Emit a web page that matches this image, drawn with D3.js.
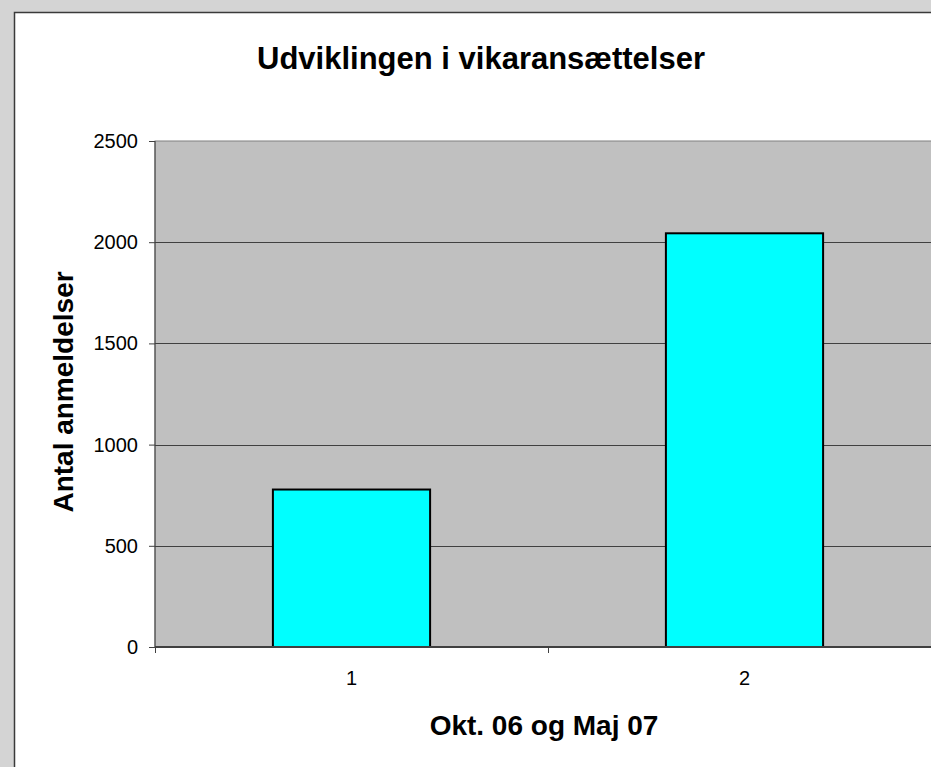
<!DOCTYPE html>
<html>
<head>
<meta charset="utf-8">
<script src="https://cdn.jsdelivr.net/npm/d3@7"></script>
<style>
  body { margin: 0; background: #d4d4d4; overflow: hidden; }
  svg { display: block; font-family: "Liberation Sans", Arial, sans-serif; }
</style>
</head>
<body>
<svg width="931" height="767"></svg>
<script>
// Chart values
const categories = ["1", "2"];
const values = [778, 2044];
const yTicks = [0, 500, 1000, 1500, 2000, 2500];

const svg = d3.select("svg");

// White chart area (cut off on the right and bottom like the reference)
svg.append("rect")
    .attr("x", 14.5).attr("y", 12.5)
    .attr("width", 1000).attr("height", 800)
    .attr("fill", "#ffffff")
    .attr("stroke", "#3a3a3a")
    .attr("stroke-width", 1.5);

const plot = { left: 155, top: 141, right: 941, bottom: 647 };

const x = d3.scaleBand()
    .domain(categories)
    .range([plot.left, plot.right])
    .paddingInner(0.6)
    .paddingOuter(0.3);

const xOuter = d3.scaleBand()
    .domain(categories)
    .range([plot.left, plot.right]);

const y = d3.scaleLinear()
    .domain([0, 2500])
    .range([plot.bottom, plot.top]);

// Plot background
svg.append("rect")
    .attr("x", plot.left).attr("y", plot.top)
    .attr("width", plot.right - plot.left)
    .attr("height", plot.bottom - plot.top)
    .attr("fill", "#c0c0c0")
    .attr("stroke", "#808080")
    .attr("stroke-width", 1);

// Gridlines
svg.selectAll(".grid")
    .data(yTicks.filter(d => d > 0 && d < 2500))
    .enter().append("line")
    .attr("x1", plot.left).attr("x2", plot.right)
    .attr("y1", d => Math.round(y(d)) + 0.5)
    .attr("y2", d => Math.round(y(d)) + 0.5)
    .attr("stroke", "#404040");

// Bars
svg.selectAll(".bar")
    .data(values)
    .enter().append("rect")
    .attr("x", (d, i) => x(categories[i]))
    .attr("y", d => y(d))
    .attr("width", x.bandwidth())
    .attr("height", d => plot.bottom - y(d))
    .attr("fill", "#00ffff")
    .attr("stroke", "#000000")
    .attr("stroke-width", 2);

// Y axis
const yAxis = svg.append("g")
    .attr("transform", `translate(${plot.left},0)`)
    .call(d3.axisLeft(y).tickValues(yTicks).tickFormat(d3.format("d")).tickSize(6).tickPadding(11));
yAxis.selectAll("text").attr("font-size", 20).attr("fill", "#000");
yAxis.selectAll("line, path").attr("stroke", "#404040");
yAxis.select(".domain").attr("d", `M0,${plot.top}V${plot.bottom}`);

// X axis
const xAxis = svg.append("g")
    .attr("transform", `translate(0,${plot.bottom})`)
    .call(d3.axisBottom(x).tickSize(0).tickPadding(24));
xAxis.select(".domain").remove();
xAxis.selectAll("text").attr("font-size", 20).attr("fill", "#000");
svg.append("line")
    .attr("x1", plot.left).attr("x2", plot.right)
    .attr("y1", plot.bottom).attr("y2", plot.bottom)
    .attr("stroke", "#404040").attr("stroke-width", 2);
// Category divider ticks
svg.selectAll(".xtick")
    .data(categories)
    .enter().append("line")
    .attr("x1", d => xOuter(d) + 0.5).attr("x2", d => xOuter(d) + 0.5)
    .attr("y1", plot.bottom).attr("y2", plot.bottom + 6)
    .attr("stroke", "#404040");

// Title and axis labels
svg.append("text")
    .attr("x", 481).attr("y", 69)
    .attr("text-anchor", "middle")
    .attr("font-size", 31).attr("font-weight", "bold")
    .text("Udviklingen i vikaransættelser");

svg.append("text")
    .attr("x", 544).attr("y", 735)
    .attr("text-anchor", "middle")
    .attr("font-size", 28).attr("font-weight", "bold")
    .text("Okt. 06 og Maj 07");

svg.append("text")
    .attr("transform", "translate(73,392) rotate(-90)")
    .attr("text-anchor", "middle")
    .attr("font-size", 28).attr("font-weight", "bold")
    .text("Antal anmeldelser");
</script>
</body>
</html>
